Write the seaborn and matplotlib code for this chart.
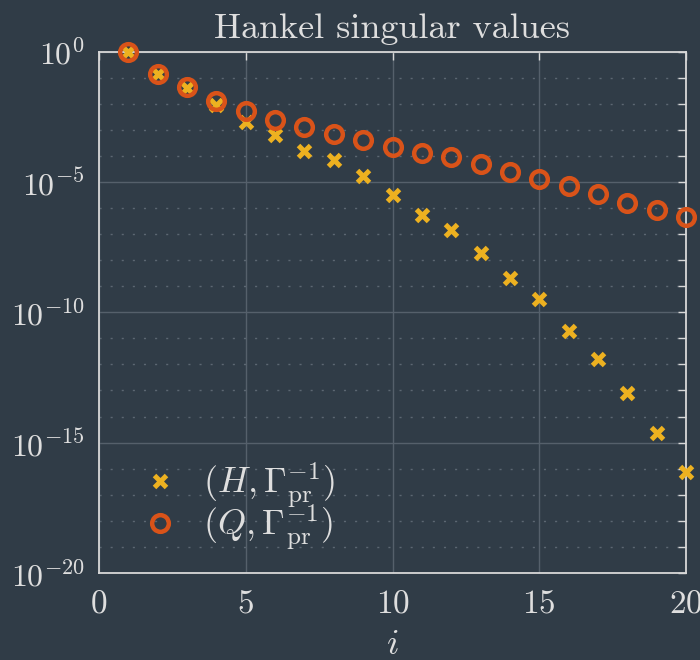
import numpy as np
import pandas as pd
import matplotlib
matplotlib.use("Agg")
import matplotlib.pyplot as plt
from matplotlib.ticker import FixedLocator, NullFormatter, LogFormatterSciNotation
import seaborn as sns

# Hankel singular values, stored as log10 of the value for each index i
index = list(range(1, 21))
log_sv_H = [0.0, -0.85, -1.40, -2.07, -2.71, -3.19, -3.83, -4.16, -4.78, -5.49,
            -6.27, -6.86, -7.73, -8.70, -9.51, -10.72, -11.80, -13.10, -14.65, -16.14]
log_sv_Q = [0.0, -0.85, -1.38, -1.88, -2.30, -2.64, -2.91, -3.15, -3.40, -3.67,
            -3.88, -4.05, -4.32, -4.61, -4.89, -5.16, -5.48, -5.80, -6.09, -6.33]
labels = [r"$(H,\Gamma_{\mathrm{pr}}^{-1})$", r"$(Q,\Gamma_{\mathrm{pr}}^{-1})$"]
x_ticks = [0, 5, 10, 15, 20]

BG = "#303c47"
FG = "#dedede"
YELLOW = "#EDB120"
ORANGE = "#D95319"

sns.set_style("dark")
plt.rcParams.update({
    "font.family": "serif",
    "font.serif": ["cmr10"],
    "mathtext.fontset": "cm",
    "axes.unicode_minus": False,
    "axes.formatter.use_mathtext": True,
    "figure.facecolor": BG,
    "axes.facecolor": BG,
    "text.color": FG,
    "axes.labelcolor": FG,
    "xtick.color": FG,
    "ytick.color": FG,
})

df = pd.DataFrame({
    "i": index,
    "H": np.power(10.0, log_sv_H),
    "Q": np.power(10.0, log_sv_Q),
})

fig = plt.figure(figsize=(7.0, 6.6), dpi=100)
ax = fig.add_axes([99 / 700, 1 - 573 / 660, 587 / 700, (573 - 51.5) / 660])
ax.set_facecolor(BG)

sns.lineplot(data=df, x="i", y="H", ax=ax, linestyle="", marker="x",
             markersize=8, markeredgewidth=3.6, color=YELLOW,
             markeredgecolor=YELLOW, label=labels[0], zorder=3, clip_on=False)
sns.lineplot(data=df, x="i", y="Q", ax=ax, linestyle="", marker="o",
             markersize=12, markeredgewidth=3.2, markerfacecolor="none",
             markeredgecolor=ORANGE, color=ORANGE, label=labels[1], zorder=4,
             clip_on=False)

ax.set_yscale("log")
ax.set_xlim(0, 20)
ax.set_ylim(1e-20, 1e0)

major_y = [10.0 ** k for k in range(-20, 1, 5)]
minor_y = [10.0 ** k for k in range(-20, 1) if k % 5 != 0]
ax.yaxis.set_major_locator(FixedLocator(major_y))
ax.yaxis.set_minor_locator(FixedLocator(minor_y))
ax.yaxis.set_major_formatter(LogFormatterSciNotation())
ax.yaxis.set_minor_formatter(NullFormatter())
ax.set_xticks(x_ticks)

ax.grid(True, which="major", color="#55606b", linewidth=1.0, linestyle="-")
ax.grid(True, which="minor", axis="y", color="#5c6772", linewidth=1.0,
        linestyle=(0, (1.5, 6.5)))
ax.set_axisbelow(True)

for s in ax.spines.values():
    s.set_visible(True)
    s.set_color("#d8d8d8")
    s.set_linewidth(1.3)

ax.tick_params(which="both", direction="in", top=True, right=True,
               length=6, width=1.0, color="#d8d8d8", labelsize=24)
ax.tick_params(axis="y", labelsize=23, pad=10)
ax.tick_params(axis="x", pad=12)

ax.set_title("Hankel singular values", fontsize=26, color=FG, pad=10)
ax.set_xlabel(r"$i$", fontsize=26, labelpad=8)
ax.set_ylabel("")

leg = ax.legend(loc="lower left", bbox_to_anchor=(0.03, 0.012), frameon=False,
                fontsize=26, handlelength=1.6, handletextpad=0.4,
                labelspacing=-0.2, borderaxespad=0.0)
for t in leg.get_texts():
    t.set_color(FG)

fig.savefig("out.png", dpi=100, facecolor=BG)
